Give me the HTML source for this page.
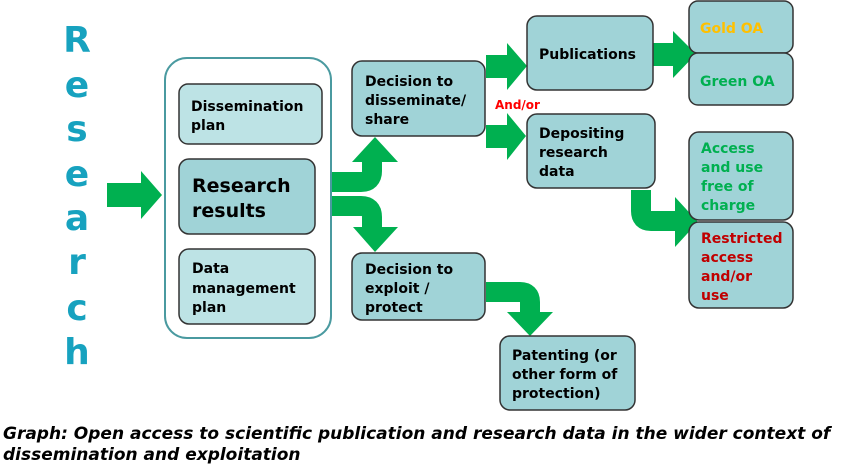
<!DOCTYPE html>
<html><head><meta charset="utf-8"><style>
body{margin:0;background:#fff;width:852px;height:466px;overflow:hidden;font-family:"DejaVu Sans","Liberation Sans",sans-serif;}
svg{position:absolute;left:0;top:0}
.cap{position:absolute;left:3px;top:424px;font:italic bold 17px "DejaVu Sans","Liberation Sans",sans-serif;line-height:21px;color:#000;white-space:nowrap}
</style></head><body>
<svg width="852" height="466" viewBox="0 0 852 466" font-family="DejaVu Sans, Liberation Sans, sans-serif" font-weight="bold">
<g fill="#17a2bf" font-size="36" text-anchor="middle">
<text x="77" y="52">R</text><text x="77" y="97">e</text><text x="77" y="141">s</text><text x="77" y="186">e</text><text x="77" y="230">a</text><text x="77" y="274">r</text><text x="77" y="320">c</text><text x="77" y="364">h</text>
</g>
<g fill="#00b050">
<polygon points="107,183 141,183 141,171 162,195 141,219 141,207 107,207"/>
<polygon points="486,55 507,55 507,43 527,66 507,90 507,78 486,78"/>
<polygon points="486,125 507,125 507,113 526,136 507,160 507,148 486,148"/>
<polygon points="653,43 673,43 673,31 696,54 673,78 673,66 653,66"/>
<polygon points="352,162 375,137 398,162"/>
<polygon points="353,227 375,252 398,227"/>
<polygon points="507,312 530,336 553,312"/>
<polygon points="675,197 698,222 675,247"/>
</g>
<g fill="none" stroke="#00b050" stroke-width="20">
<path d="M331,182 H361 Q372,182 372,171 V160"/>
<path d="M331,206 H361 Q372,206 372,217 V229"/>
<path d="M486,292 H520 Q530,292 530,302 V314"/>
<path d="M641,190 V211 Q641,221 651,221 H677"/>
</g>
<rect x="165" y="58" width="166" height="280" rx="22" fill="#fff" stroke="#4a9aa0" stroke-width="2"/>
<g stroke="#333" stroke-width="1.5">
<rect x="179" y="84" width="143" height="60" rx="9" fill="#bde3e5"/>
<rect x="179" y="159" width="136" height="75" rx="10" fill="#a0d3d7"/>
<rect x="179" y="249" width="136" height="75" rx="10" fill="#bde3e5"/>
<g fill="#a0d3d7">
<rect x="352" y="61" width="133" height="75" rx="10"/>
<rect x="527" y="16" width="126" height="74" rx="10"/>
<rect x="689" y="1" width="104" height="52" rx="9"/>
<rect x="689" y="53" width="104" height="52" rx="9"/>
<rect x="527" y="114" width="128" height="74" rx="10"/>
<rect x="689" y="132" width="104" height="88" rx="10"/>
<rect x="689" y="222" width="104" height="86" rx="10"/>
<rect x="352" y="253" width="133" height="67" rx="10"/>
<rect x="500" y="336" width="135" height="74" rx="10"/>
</g></g>
<g fill="#000" font-size="14">
<text x="191" y="111">Dissemination</text><text x="191" y="130">plan</text>
<text x="192" y="192" font-size="19">Research</text><text x="192" y="217" font-size="19">results</text>
<text x="192" y="273">Data</text><text x="192" y="293">management</text><text x="192" y="312">plan</text>
<text x="365" y="86">Decision to</text><text x="365" y="105">disseminate/</text><text x="365" y="124">share</text>
<text x="539" y="59">Publications</text>
<text x="539" y="138">Depositing</text><text x="539" y="157">research</text><text x="539" y="176">data</text>
<text x="365" y="274">Decision to</text><text x="365" y="293">exploit /</text><text x="365" y="312">protect</text>
<text x="512" y="360">Patenting (or</text><text x="512" y="379">other form of</text><text x="512" y="398">protection)</text>
</g>
<text x="700" y="33" font-size="14" fill="#ffc000">Gold OA</text>
<text x="700" y="86" font-size="14" fill="#00b050">Green OA</text>
<g font-size="14" fill="#00b050"><text x="701" y="153">Access</text><text x="701" y="172">and use</text><text x="701" y="191">free of</text><text x="701" y="210">charge</text></g>
<g font-size="14" fill="#c00000"><text x="701" y="243">Restricted</text><text x="701" y="262">access</text><text x="701" y="281">and/or</text><text x="701" y="300">use</text></g>
<text x="495" y="109" font-size="12" fill="#ff0000">And/or</text>
</svg>
<div class="cap">Graph: Open access to scientific publication and research data in the wider context of<br>dissemination and exploitation</div>
</body></html>
